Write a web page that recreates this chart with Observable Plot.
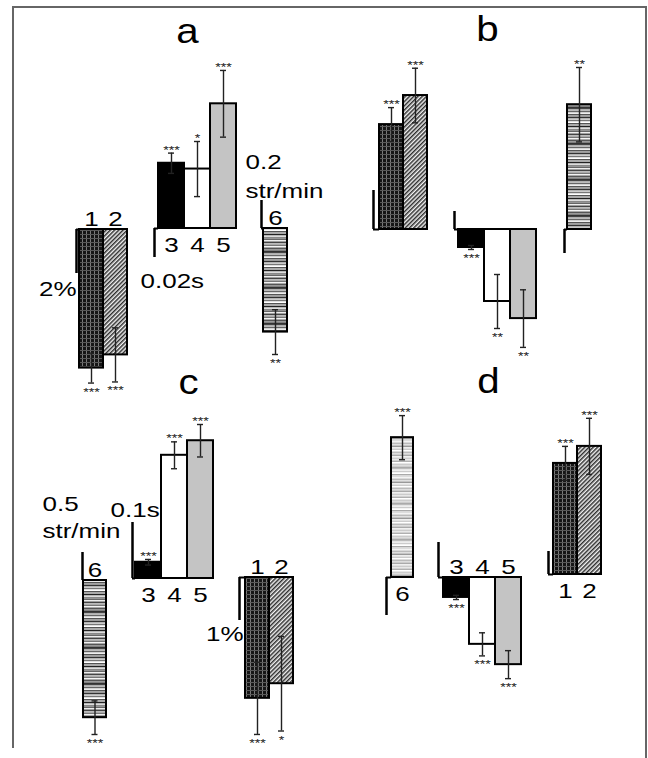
<!DOCTYPE html>
<html>
<head>
<meta charset="utf-8">
<script src="https://cdn.jsdelivr.net/npm/d3@7"></script>
<script src="https://cdn.jsdelivr.net/npm/@observablehq/plot@0.6"></script>
<style>
  html, body { margin: 0; padding: 0; background: #fff; }
  #wrap { position: relative; width: 648px; height: 758px; }
</style>
</head>
<body>
<div id="wrap"></div>
<script>
// ---------- DATA ----------
const panelLetters = ["a", "b", "c", "d"];
const catsPct  = ["1", "2"];        // % change (scale bars 2% / 1%)
const catsTime = ["3", "4", "5"];   // seconds
const catsRate = ["6"];             // str/min

// panel a
const aPct = [-6.3, -5.7],          aPctErr = [0.68, 1.23],          aPctSig = ["***", "***"];
const aTime = [0.045, 0.041, 0.086], aTimeErr = [0.007, 0.019, 0.023], aTimeSig = ["***", "*", "***"];
const aRate = [-0.74],               aRateErr = [0.16],                 aRateSig = ["**"];
// panel b
const bPct = [5.38, 6.87],           bPctErr = [0.87, 1.4],             bPctSig = ["***", "***"];
const bTime = [-0.02, -0.08, -0.099], bTimeErr = [0.0022, 0.03, 0.032], bTimeSig = ["***", "**", "**"];
const bRate = [1.04],                bRateErr = [0.31],                 bRateSig = ["**"];
// panel c
const cTime = [0.029, 0.22, 0.246],  cTimeErr = [0.005, 0.024, 0.029],  cTimeSig = ["***", "***", "***"];
const cRate = [-2.45],               cRateErr = [0.30],                 cRateSig = ["***"];
const cPct = [-2.81, -2.47],         cPctErr = [0.84, 1.1],             cPctSig = ["***", "*"];
// panel d
const dRate = [1.84],                dRateErr = [0.29],                 dRateSig = ["***"];
const dTime = [-0.057, -0.191, -0.249], dTimeErr = [0.006, 0.033, 0.04], dTimeSig = ["***", "***", "***"];
const dPct = [4.83, 5.57],           dPctErr = [0.74, 1.22],            dPctSig = ["***", "***"];

// scale-bar values (units)
const scaleVals = {pctA: 2, pctC: 1, time: 0.02, timeC: 0.1, rateA: 0.2, rateC: 0.5};
const scaleTexts = ["2%", "0.02s", "0.2", "str/min", "0.5", "str/min", "0.1s", "1%"];

// ---------- LAYOUT (positions / sizes) ----------
const groups = [
  {cats: catsPct,  v: aPct,  e: aPctErr,  s: aPctSig,  x0: 79,  w: 24, base: 229, ppu: 22,   sv: scaleVals.pctA,  sx: 76,  sd: 1,  lab: true},
  {cats: catsTime, v: aTime, e: aTimeErr, s: aTimeSig, x0: 158, w: 26, base: 228, ppu: 1450, sv: scaleVals.time,  sx: 154, sd: 1,  lab: true},
  {cats: catsRate, v: aRate, e: aRateErr, s: aRateSig, x0: 263, w: 24, base: 228, ppu: 140,  sv: scaleVals.rateA, sx: 261, sd: -1, lab: true},
  {cats: catsPct,  v: bPct,  e: bPctErr,  s: bPctSig,  x0: 379, w: 24, base: 229, ppu: 19.5, sv: scaleVals.pctA,  sx: 373, sd: -1, lab: false},
  {cats: catsTime, v: bTime, e: bTimeErr, s: bTimeSig, x0: 458, w: 26, base: 229, ppu: 900,  sv: scaleVals.time,  sx: 454, sd: -1, lab: false},
  {cats: catsRate, v: bRate, e: bRateErr, s: bRateSig, x0: 567, w: 24, base: 229, ppu: 120,  sv: scaleVals.rateA, sx: 564, sd: 1,  lab: false},
  {cats: catsTime, v: cTime, e: cTimeErr, s: cTimeSig, x0: 135, w: 26, base: 578, ppu: 560,  sv: scaleVals.timeC, sx: 132, sd: -1, lab: true},
  {cats: catsRate, v: cRate, e: cRateErr, s: cRateSig, x0: 83,  w: 23, base: 580, ppu: 56,   sv: scaleVals.rateC, sx: 82,  sd: -1, lab: true},
  {cats: catsPct,  v: cPct,  e: cPctErr,  s: cPctSig,  x0: 245, w: 24, base: 577, ppu: 43,   sv: scaleVals.pctC,  sx: 239, sd: 1,  lab: true},
  {cats: catsRate, v: dRate, e: dRateErr, s: dRateSig, x0: 391, w: 22, base: 577, ppu: 76,   sv: scaleVals.rateC, sx: 386, sd: 1,  lab: true, light: true},
  {cats: catsTime, v: dTime, e: dTimeErr, s: dTimeSig, x0: 443, w: 26, base: 577, ppu: 350,  sv: scaleVals.timeC, sx: 438, sd: -1, lab: true},
  {cats: catsPct,  v: dPct,  e: dPctErr,  s: dPctSig,  x0: 553, w: 24, base: 574, ppu: 23,   sv: scaleVals.pctC,  sx: 548, sd: -1, lab: true}
];
const titlePos = [[187, 42], [487, 40], [188, 393], [488, 392]];
const scaleTextPos = [
  [76, 295, "end"], [140, 287, "start"], [245, 168, "start"], [245, 197, "start"],
  [42, 510, "start"], [42, 537, "start"], [110, 516, "start"], [243, 640, "end"]
];
const fillOf = (cat, light) => ({
  "1": "url(#pat1)", "2": "url(#pat2)", "3": "#000000", "4": "#ffffff", "5": "#c4c4c4",
  "6": light ? "url(#pat6l)" : "url(#pat6)"
})[cat];

// ---------- build tables ----------
const bars = [], caps = [], stars = [], labels = [], scaleBars = [], connectors = [];
groups.forEach(g => {
  g.v.forEach((val, i) => {
    const x1 = g.x0 + i * g.w, x2 = x1 + g.w, cx = (x1 + x2) / 2;
    const top = g.base - val * g.ppu;
    const hi = g.base - (val + g.e[i]) * g.ppu, lo = g.base - (val - g.e[i]) * g.ppu;
    bars.push({x1, x2, y1: Math.min(g.base, top), y2: Math.max(g.base, top), fill: fillOf(g.cats[i], g.light), cx, hi, lo});
    caps.push({y: hi, xa: cx - 3, xb: cx + 3}, {y: lo, xa: cx - 3, xb: cx + 3});
    stars.push({x: cx, y: val > 0 ? hi + 0.5 : lo + 12.5, t: g.s[i]});
    if (g.lab) labels.push({x: cx, y: val > 0 ? g.base + 23 : g.base - 4, t: g.cats[i]});
  });
  scaleBars.push({x: g.sx, y1: g.base, y2: g.base + g.sd * g.sv * g.ppu});
  connectors.push({y: g.base, x1: g.sx, x2: g.x0});
});
const titles = panelLetters.map((t, i) => ({t, x: titlePos[i][0], y: titlePos[i][1]}));
const scaleLabels = scaleTexts.map((t, i) => ({t, x: scaleTextPos[i][0], y: scaleTextPos[i][1], a: scaleTextPos[i][2]}));

const font = "Liberation Sans, Arial, Helvetica, sans-serif";
const chart = Plot.plot({
  width: 648, height: 758,
  marginTop: 0, marginRight: 0, marginBottom: 0, marginLeft: 0,
  x: {domain: [0, 648], range: [0, 648], axis: null},
  y: {domain: [0, 758], range: [0, 758], axis: null},
  color: {type: "identity"},
  style: {fontFamily: font, background: "#fff"},
  marks: [
    Plot.rect(bars, {x1: "x1", x2: "x2", y1: "y1", y2: "y2", fill: "fill", stroke: "#000", strokeWidth: 2}),
    Plot.ruleX(bars, {x: "cx", y1: "hi", y2: "lo", stroke: "#222", strokeWidth: 1.4}),
    Plot.ruleY(caps, {y: "y", x1: "xa", x2: "xb", stroke: "#222", strokeWidth: 1.4}),
    Plot.ruleX(scaleBars, {x: "x", y1: "y1", y2: "y2", stroke: "#000", strokeWidth: 2.5}),
    Plot.ruleY(connectors, {y: "y", x1: "x1", x2: "x2", stroke: "#000", strokeWidth: 2}),
    Plot.text(stars, {x: "x", y: "y", text: "t", fontSize: 11, fill: "#222", lineAnchor: "bottom", textAnchor: "middle"}),
    Plot.text(labels, {x: "x", y: "y", text: "t", fontSize: 20, fill: "#000", lineAnchor: "bottom", textAnchor: "middle"}),
    Plot.text(scaleLabels, {filter: d => d.a === "start", x: "x", y: "y", text: "t", fontSize: 20, fill: "#000", lineAnchor: "bottom", textAnchor: "start"}),
    Plot.text(scaleLabels, {filter: d => d.a === "end", x: "x", y: "y", text: "t", fontSize: 20, fill: "#000", lineAnchor: "bottom", textAnchor: "end"}),
    Plot.text(titles, {x: "x", y: "y", text: "t", fontSize: 36, fill: "#000", lineAnchor: "bottom", textAnchor: "middle"})
  ]
});

// patterns
const svg = d3.select(chart);
const defs = svg.insert("defs", ":first-child");
const p1 = defs.append("pattern").attr("id", "pat1").attr("patternUnits", "userSpaceOnUse").attr("width", 4).attr("height", 4);
p1.append("rect").attr("width", 4).attr("height", 4).attr("fill", "#161616");
p1.append("rect").attr("x", 2).attr("width", 1).attr("height", 4).attr("fill", "#7a7a7a");
p1.append("rect").attr("y", 2).attr("width", 4).attr("height", 1).attr("fill", "#5a5a5a");
const p2 = defs.append("pattern").attr("id", "pat2").attr("patternUnits", "userSpaceOnUse").attr("width", 3).attr("height", 3).attr("patternTransform", "rotate(45)");
p2.append("rect").attr("width", 3).attr("height", 3).attr("fill", "#f2f2f2");
p2.append("rect").attr("width", 1.5).attr("height", 3).attr("fill", "#2e2e2e");
const stripesDark = ["#444","#bbb","#666","#eee","#555","#999","#333","#ccc","#777","#fff","#555","#aaa","#222","#ddd","#888","#666","#eee","#444","#bbb","#777","#f4f4f4","#555","#999","#333"];
const stripesLight = ["#bbb","#eee","#ccc","#fff","#aaa","#ddd","#f4f4f4","#bbb","#e0e0e0","#999","#eee","#ccc","#fff","#bbb","#ddd","#aaa","#f0f0f0","#ccc","#e8e8e8","#b0b0b0","#fff","#ccc","#ddd","#aaa"];
[["pat6", stripesDark], ["pat6l", stripesLight]].forEach(([id, cols]) => {
  const p = defs.append("pattern").attr("id", id).attr("patternUnits", "userSpaceOnUse").attr("width", 4).attr("height", cols.length * 1.5);
  cols.forEach((c, i) => p.append("rect").attr("y", i * 1.5).attr("width", 4).attr("height", 1.5).attr("fill", c));
});

// horizontal stretch of lettering, as in the reference
svg.selectAll("text").each(function () {
  const fs = +(this.getAttribute("font-size") || this.parentNode.getAttribute("font-size") || 10);
  const s = fs >= 30 ? 1.12 : 1.3;
  const tr = this.getAttribute("transform");
  if (tr && tr.includes("translate")) {
    this.setAttribute("transform", tr + ` scale(${s},1)`);
  } else {
    const x = +(this.getAttribute("x") || 0);
    this.setAttribute("transform", `translate(${x},0) scale(${s},1) translate(${-x},0)`);
  }
});

// figure frame
svg.append("path").attr("d", "M13,748V7H646V758").attr("fill", "none").attr("stroke", "#666").attr("stroke-width", 2);

document.getElementById("wrap").appendChild(chart);
</script>
</body>
</html>
